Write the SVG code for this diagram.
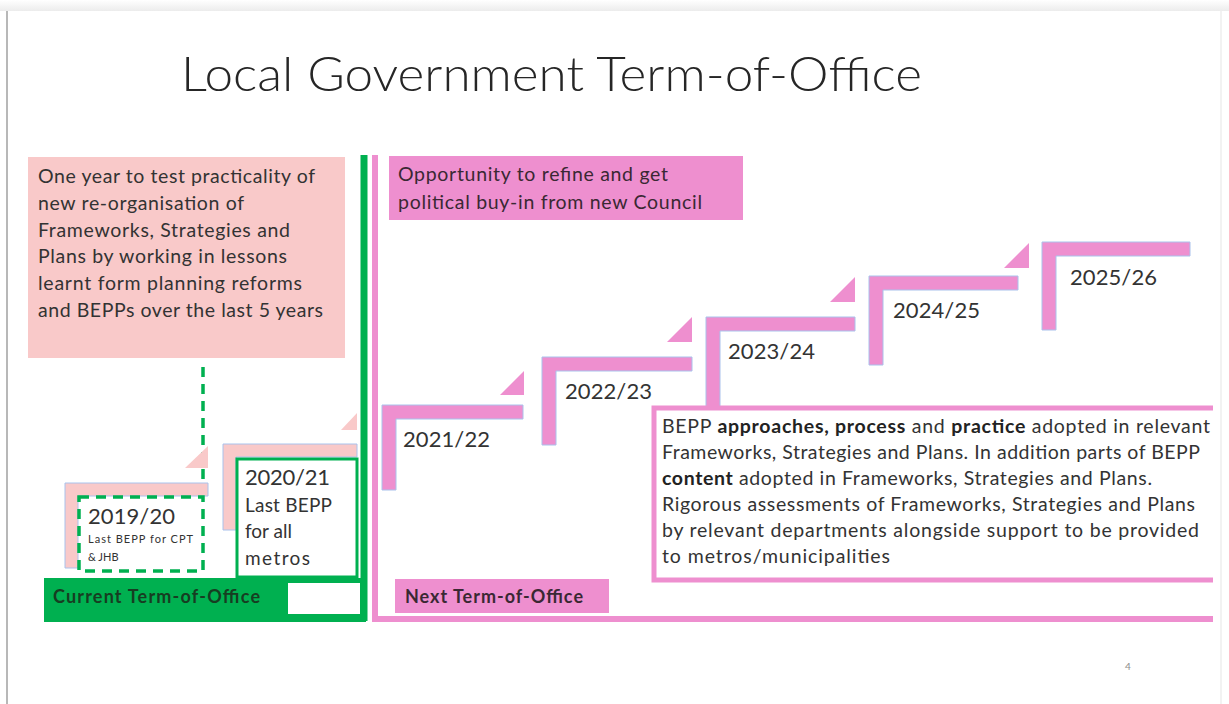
<svg xmlns="http://www.w3.org/2000/svg" width="1229" height="704" viewBox="0 0 1229 704">
  <defs>
    <linearGradient id="topShade" x1="0" y1="0" x2="0" y2="1">
      <stop offset="0" stop-color="#ffffff"/>
      <stop offset="1" stop-color="#ececec"/>
    </linearGradient>
  </defs>
  <style>
    text { font-family: Lato, "Liberation Sans", sans-serif; fill: #333333; }
    .title { font-size: 48px; font-weight: 300; fill: #262626; }
    .body { font-size: 19.5px; }
    .bepp { font-size: 19.5px; }
    .year { font-size: 22px; }
    .small { font-size: 11px; }
    .mid { font-size: 19px; }
    .strong { font-weight: bold; fill: #222222; }
    .lightStep { fill: #F9C9C9; stroke: #A9C2EC; stroke-width: 1; }
    .pinkStep { fill: #EE8FCF; stroke: #A9C2EC; stroke-width: 1; }
    .pinkTri { fill: #EE8FCF; }
    .lightTri { fill: #F9C9C9; }
    .greenDash { fill: none; stroke: #00B050; stroke-width: 3.5; stroke-dasharray: 10 7; }
  </style>

  <!-- slide page -->
  <rect x="0" y="0" width="1229" height="704" fill="#ffffff"/>
  <rect x="0" y="0" width="1229" height="11" fill="url(#topShade)"/>
  <line x1="7" y1="11" x2="7" y2="704" stroke="#b8b8b8" stroke-width="2"/>
  <line x1="1221" y1="11" x2="1221" y2="704" stroke="#eeeeee" stroke-width="1.5"/>

  <text class="title" x="181" y="91" textLength="741" lengthAdjust="spacingAndGlyphs">Local Government Term-of-Office</text>

  <!-- current term note -->
  <g id="note-current">
    <rect x="28" y="157" width="317" height="201" fill="#F9C9C9"/>
    <text class="body" x="38" y="183" textLength="277">One year to test practicality of</text>
    <text class="body" x="38" y="210" textLength="206">new re-organisation of</text>
    <text class="body" x="38" y="237" textLength="252">Frameworks, Strategies and</text>
    <text class="body" x="38" y="263" textLength="249">Plans by working in lessons</text>
    <text class="body" x="38" y="290" textLength="264">learnt form  planning reforms</text>
    <text class="body" x="38" y="317" textLength="285">and BEPPs over the last 5 years</text>
  </g>

  <!-- next term note -->
  <g id="note-next">
    <rect x="389" y="156" width="354" height="64" fill="#EE8FCF"/>
    <text class="body" x="398" y="181" textLength="270" style="fill:#3a2833">Opportunity to refine and get</text>
    <text class="body" x="398" y="209" textLength="304" style="fill:#3a2833">political buy-in from new Council</text>
  </g>

  <!-- term boundaries -->
  <g id="connectors">
    <line x1="364" y1="155" x2="364" y2="621" stroke="#00B050" stroke-width="7"/>
    <path d="M375,155 V619 H1213" fill="none" stroke="#EE8FCF" stroke-width="6"/>
    <line class="greenDash" x1="203" y1="367" x2="203" y2="486"/>
  </g>

  <!-- 2019/20 -->
  <g id="year-2019-20">
    <path class="lightStep" d="M65,483 H208 V496 H78 V568 H65 Z"/>
    <polygon class="lightTri" points="185,468 208,468 208,446"/>
    <rect x="79" y="497" width="124" height="74" fill="#ffffff"/>
    <rect class="greenDash" x="79" y="497" width="124" height="74"/>
    <text class="year" x="88" y="524" textLength="87">2019/20</text>
    <text class="small" x="88" y="543" textLength="105">Last BEPP for CPT</text>
    <text class="small" x="88" y="561">&amp; JHB</text>
  </g>

  <!-- 2020/21 -->
  <g id="year-2020-21">
    <path class="lightStep" d="M223,444 H357 V457 H236 V530 H223 Z"/>
    <polygon class="lightTri" points="341,430 357,430 357,413"/>
    <rect x="237" y="459" width="120" height="118" fill="#ffffff" stroke="#00B050" stroke-width="3"/>
    <text class="year" x="245" y="485" textLength="85">2020/21</text>
    <text class="mid" x="245" y="512" textLength="87">Last BEPP</text>
    <text class="mid" x="245" y="538">for all</text>
    <text class="mid" x="245" y="565" textLength="65">metros</text>
  </g>

  <!-- current term label -->
  <g id="label-current">
    <rect x="44" y="578" width="322" height="44" fill="#00B050"/>
    <rect x="288" y="583" width="72" height="31" fill="#ffffff"/>
    <text class="body" x="53" y="603" textLength="207" style="font-size:18px;font-weight:bold;fill:#173d22">Current Term-of-Office</text>
  </g>

  <!-- 2021/22 -->
  <g id="year-2021-22">
    <path class="pinkStep" d="M382,405 H523 V419 H396 V490 H382 Z"/>
    <polygon class="pinkTri" points="500,395 524,395 524,371"/>
    <text class="year" x="403" y="447" textLength="87">2021/22</text>
  </g>

  <!-- 2022/23 -->
  <g id="year-2022-23">
    <path class="pinkStep" d="M542,357 H692 V371 H556 V445 H542 Z"/>
    <polygon class="pinkTri" points="667,342 692,342 692,317"/>
    <text class="year" x="565" y="399" textLength="87">2022/23</text>
  </g>

  <!-- 2023/24 -->
  <g id="year-2023-24">
    <path class="pinkStep" d="M706,317 H855 V331 H720 V407 H706 Z"/>
    <polygon class="pinkTri" points="830,302 855,302 855,277"/>
    <text class="year" x="728" y="359" textLength="87">2023/24</text>
  </g>

  <!-- 2024/25 -->
  <g id="year-2024-25">
    <path class="pinkStep" d="M869,276 H1018 V290 H883 V365 H869 Z"/>
    <polygon class="pinkTri" points="1004,268 1029,268 1029,243"/>
    <text class="year" x="893" y="318" textLength="87">2024/25</text>
  </g>

  <!-- 2025/26 -->
  <g id="year-2025-26">
    <path class="pinkStep" d="M1042,242 H1190 V256 H1056 V330 H1042 Z"/>
    <text class="year" x="1070" y="285" textLength="87">2025/26</text>
  </g>

  <!-- outcome note -->
  <g id="note-outcome">
    <rect x="654" y="408" width="559" height="172" fill="#ffffff"/>
    <path d="M1213,408 H654 V580 H1213" fill="none" stroke="#EE8FCF" stroke-width="5"/>
    <text class="bepp" x="662" y="433" textLength="548">BEPP <tspan class="strong">approaches, process</tspan> and <tspan class="strong">practice</tspan> adopted in relevant</text>
    <text class="bepp" x="662" y="459" textLength="538">Frameworks, Strategies and Plans. In addition parts of BEPP</text>
    <text class="bepp" x="662" y="485" textLength="490"><tspan class="strong">content</tspan> adopted in Frameworks, Strategies and Plans.</text>
    <text class="bepp" x="662" y="511" textLength="533">Rigorous assessments  of Frameworks, Strategies and Plans</text>
    <text class="bepp" x="662" y="537" textLength="537">by relevant departments alongside support to be provided</text>
    <text class="bepp" x="662" y="563" textLength="228">to metros/municipalities</text>
  </g>

  <!-- next term label -->
  <g id="label-next">
    <rect x="395" y="579" width="214" height="34" fill="#EE8FCF"/>
    <text class="body" x="405" y="603" textLength="178" style="font-size:18px;font-weight:bold;fill:#3a2833">Next Term-of-Office</text>
  </g>

  <text x="1125" y="670" style="font-size:10px;fill:#8c8c8c">4</text>
</svg>
